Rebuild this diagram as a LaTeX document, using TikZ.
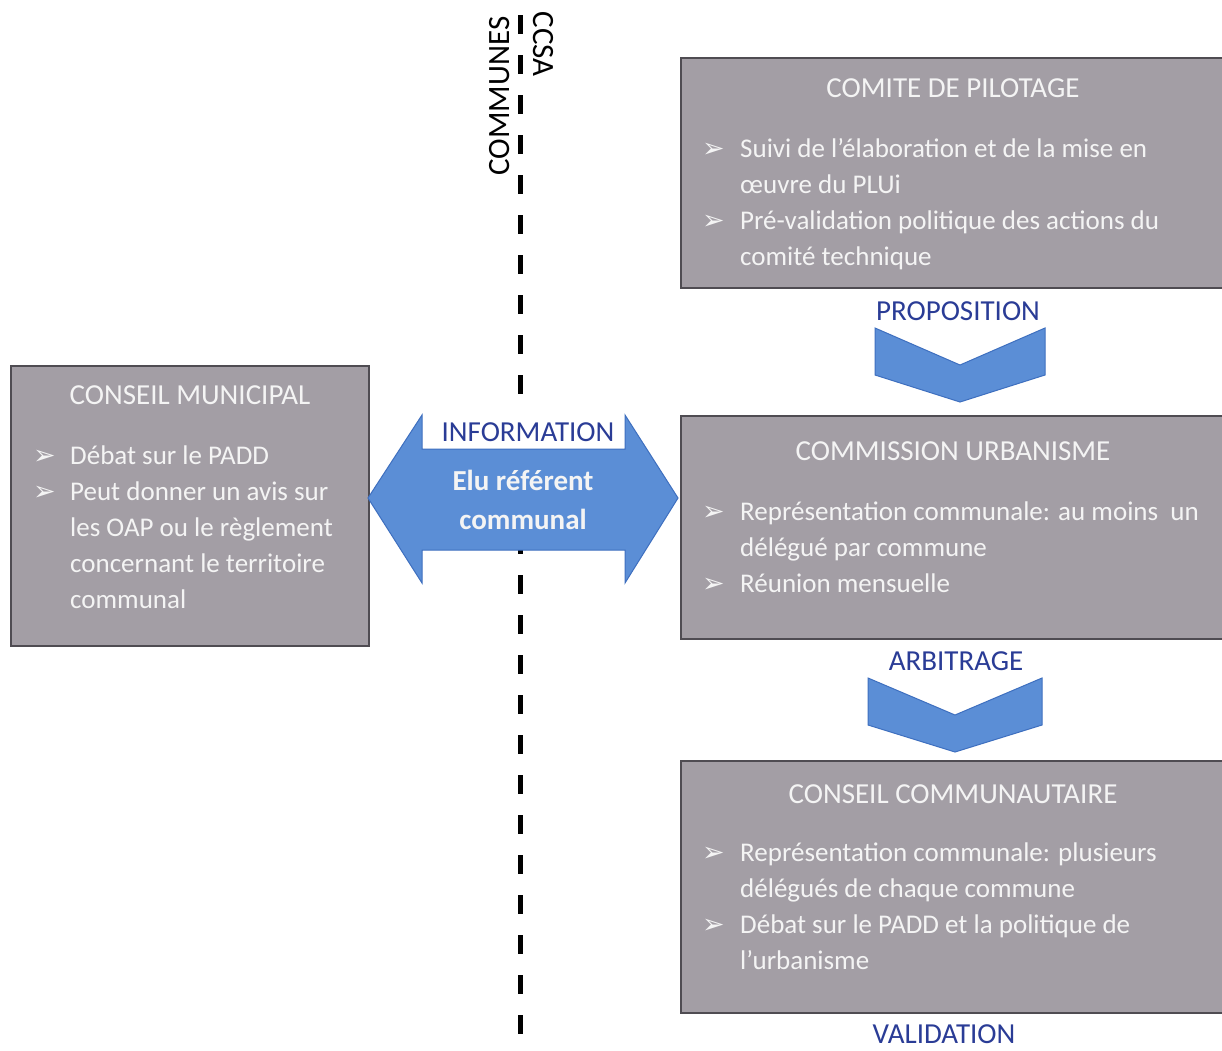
\documentclass[tikz,border=0pt]{standalone}
\usepackage{fontspec}
\setmainfont{Carlito}
\newfontfamily\djv{DejaVu Sans}
\definecolor{boxgray}{HTML}{A39EA5}
\definecolor{boxedge}{HTML}{4F4C52}
\definecolor{lblue}{HTML}{2A3C96}
\definecolor{afill}{HTML}{5B8ED6}
\definecolor{aedge}{HTML}{3E6FBF}
\definecolor{wtext}{HTML}{F4F4F4}
\tikzset{
 panel/.style={draw=boxedge, line width=2pt, fill=boxgray, inner sep=0pt},
 ptitle/.style={text=wtext, font=\fontsize{29}{34}\selectfont, anchor=base, inner sep=0pt},
 pitem/.style={text=wtext, font=\fontsize{27}{32}\selectfont, anchor=base west, inner sep=0pt},
 bul/.style={text=wtext, font=\djv\fontsize{27}{30}\selectfont, anchor=base west, inner sep=0pt},
 flowlbl/.style={text=lblue, font=\fontsize{29}{34}\selectfont, anchor=base, inner sep=0pt},
 chev/.style={fill=afill, draw=aedge, line width=1pt},
 sidelbl/.style={text=black, font=\fontsize{31}{36}\selectfont, inner sep=0pt},
}
\begin{document}
\begin{tikzpicture}[x=1pt,y=-1pt]
\useasboundingbox[fill=white] (0,0) rectangle (1222,1050);
% separation line
\coordinate (ltop) at (520,15);
\coordinate (lbot) at (520,1034);
\draw[line width=5pt, dash pattern=on 19pt off 21pt] (ltop) -- (lbot);
\node[sidelbl, rotate=90] (communes) at (500,96) {COMMUNES};
\node[sidelbl, rotate=-90] (ccsa) at (543,44) {CCSA};

% panels
\node[panel, minimum width=542, minimum height=230, anchor=north west] (cp) at (680,57) {};
\node[panel, minimum width=542, minimum height=223, anchor=north west] (cu) at (680,415) {};
\node[panel, minimum width=542, minimum height=252, anchor=north west] (cc) at (680,760) {};
\node[panel, minimum width=358, minimum height=280, anchor=north west] (cm) at (10,365) {};

% Comite de pilotage
\node[ptitle] (cpt) at (953,97) {COMITE DE PILOTAGE};
\node[bul] (cpb1) at (702,157) {➢};
\node[pitem] (cp1) at (740,157) {Suivi de l’élaboration et de la mise en};
\node[pitem] (cp2) at (740,193) {œuvre du PLUi};
\node[bul] (cpb2) at (702,229) {➢};
\node[pitem] (cp3) at (740,229) {Pré-validation politique des actions du};
\node[pitem] (cp4) at (740,265) {comité technique};

% Commission urbanisme
\node[ptitle] (cut) at (953,460) {COMMISSION URBANISME};
\node[bul] (cub1) at (702,520) {➢};
\node[pitem] (cu1) at (740,520) {Représentation communale: au moins\ \ un};
\node[pitem] (cu2) at (740,556) {délégué par commune};
\node[bul] (cub2) at (702,592) {➢};
\node[pitem] (cu3) at (740,592) {Réunion mensuelle};

% Conseil communautaire
\node[ptitle] (cct) at (953,803) {CONSEIL COMMUNAUTAIRE};
\node[bul] (ccb1) at (702,861) {➢};
\node[pitem] (cc1) at (740,861) {Représentation communale: plusieurs};
\node[pitem] (cc2) at (740,897) {délégués de chaque commune};
\node[bul] (ccb2) at (702,933) {➢};
\node[pitem] (cc3) at (740,933) {Débat sur le PADD et la politique de};
\node[pitem] (cc4) at (740,969) {l’urbanisme};

% Conseil municipal
\node[ptitle] (cmt) at (190,404) {CONSEIL MUNICIPAL};
\node[bul] (cmb1) at (33,464) {➢};
\node[pitem] (cm1) at (70,464) {Débat sur le PADD};
\node[bul] (cmb2) at (33,500) {➢};
\node[pitem] (cm2) at (70,500) {Peut donner un avis sur};
\node[pitem] (cm3) at (70,536) {les OAP ou le règlement};
\node[pitem] (cm4) at (70,572) {concernant le territoire};
\node[pitem] (cm5) at (70,608) {communal};

% double arrow
\fill[white] (422,411) rectangle (625,449);
\draw[fill=afill, draw=aedge, line width=1pt] (368,498) -- (422,415) -- (422,449) -- (625,449) -- (625,415) -- (678,498) -- (625,583) -- (625,550) -- (422,550) -- (422,583) -- cycle;
\node[flowlbl] (info) at (528,441) {INFORMATION};
\node[text=wtext, font=\bfseries\fontsize{29}{34}\selectfont, anchor=base, inner sep=0pt] (elu1) at (523,490) {Elu référent};
\node[text=wtext, font=\bfseries\fontsize{29}{34}\selectfont, anchor=base, inner sep=0pt] (elu2) at (523,529) {communal};

% flow labels and chevrons
\node[flowlbl] (prop) at (958,320) {PROPOSITION};
\draw[chev] (875,328) -- (960,365) -- (1045,328) -- (1045,375) -- (960,402) -- (875,375) -- cycle;
\node[flowlbl] (arb) at (956,670) {ARBITRAGE};
\draw[chev] (868,678) -- (955,715) -- (1042,678) -- (1042,725) -- (955,752) -- (868,725) -- cycle;
\node[flowlbl] (valid) at (944,1043) {VALIDATION};
\end{tikzpicture}
\end{document}
